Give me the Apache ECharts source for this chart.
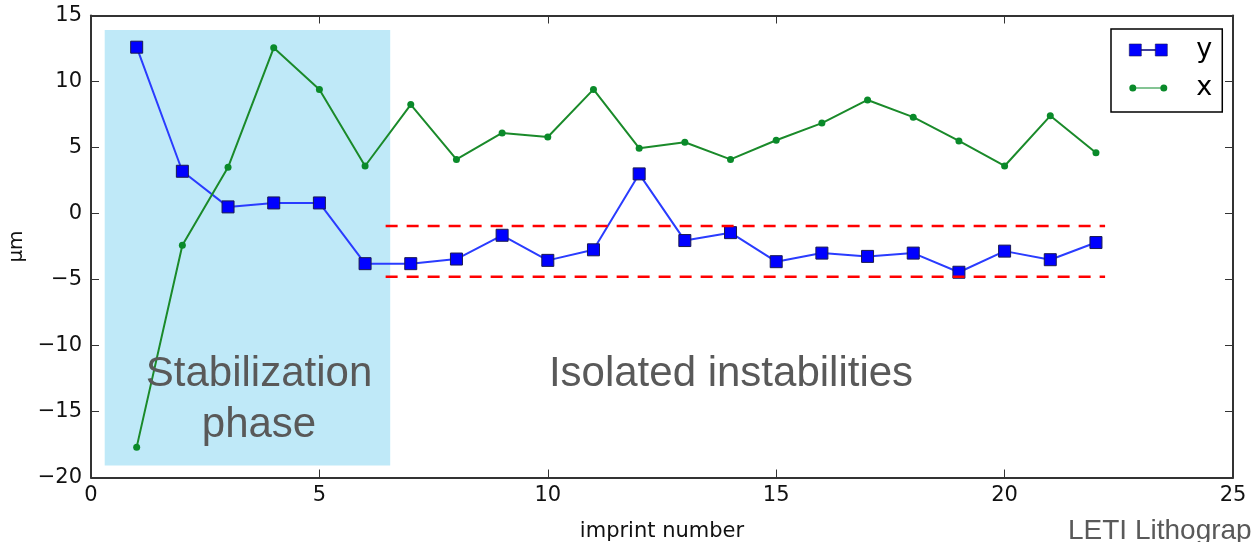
<!DOCTYPE html>
<html>
<head>
<meta charset="utf-8">
<script src="https://cdn.jsdelivr.net/npm/echarts@6/dist/echarts.min.js"></script>
<style>
  html, body { margin: 0; padding: 0; background: #fff; }
  #chart { width: 1251px; height: 542px; }
</style>
</head>
<body>
<div id="chart"></div>
<script>
// imprint numbers
var imprints = [1, 2, 3, 4, 5, 6, 7, 8, 9, 10, 11, 12, 13, 14, 15, 16, 17, 18, 19, 20, 21, 22];
// y shift (um)
var yShift = [12.6, 3.2, 0.5, 0.8, 0.8, -3.8, -3.8, -3.45, -1.65, -3.55, -2.75, 3.0, -2.05, -1.45, -3.65, -3.0, -3.25, -3.0, -4.45, -2.85, -3.5, -2.2];
// x shift (um)
var xShift = [-17.7, -2.4, 3.5, 12.55, 9.4, 3.6, 8.25, 4.1, 6.1, 5.8, 9.4, 4.95, 5.4, 4.1, 5.55, 6.85, 8.6, 7.3, 5.5, 3.6, 7.4, 4.6];
// tolerance band (red dashed)
var bandX = [6.45, 22.2];
var bandUpper = -0.95;
var bandLower = -4.8;
// stabilization phase shaded box [x0, x1, y0, y1]
var stabBox = [0.3, 6.55, -19.1, 13.9];
// axis ticks
var xTicks = { min: 0, max: 25, step: 5 };
var yTicks = { min: -20, max: 15, step: 5 };

var frameColor = '#333';
var tickFont = { color: '#111', fontSize: 21, fontFamily: 'DejaVu Sans' };
var minus = function (v) { return String(v).replace('-', '\u2212'); };

var chart = echarts.init(document.getElementById('chart'));

var pairs = function (ys) {
    return imprints.map(function (x, i) { return [x, ys[i]]; });
};

var frameLine = { show: true, onZero: false, lineStyle: { color: frameColor, width: 2 } };
var frameTick = { show: true, inside: true, length: 8, lineStyle: { color: frameColor, width: 1 } };

var option = {
    animation: false,
    backgroundColor: '#fff',
    grid: { left: 91, right: 18, top: 15.5, bottom: 64.5, containLabel: false, outerBoundsMode: 'none' },
    xAxis: [
        {
            type: 'value', position: 'bottom',
            min: xTicks.min, max: xTicks.max, interval: xTicks.step,
            name: 'imprint number', nameLocation: 'middle', nameGap: 44,
            nameTextStyle: { color: '#111', fontSize: 21, fontFamily: 'DejaVu Sans' },
            axisLine: frameLine,
            axisTick: frameTick,
            axisLabel: Object.assign({ margin: 8, formatter: minus, showMinLabel: true, showMaxLabel: true }, tickFont),
            splitLine: { show: false }
        },
        {
            type: 'value', position: 'top',
            min: xTicks.min, max: xTicks.max, interval: xTicks.step,
            axisLine: frameLine,
            axisTick: frameTick,
            axisLabel: { show: false },
            splitLine: { show: false }
        }
    ],
    yAxis: [
        {
            type: 'value', position: 'left',
            min: yTicks.min, max: yTicks.max, interval: yTicks.step,
            name: '\u03bcm', nameLocation: 'middle', nameGap: 62, nameRotate: 90,
            nameTextStyle: { color: '#111', fontSize: 20, fontFamily: 'DejaVu Sans' },
            axisLine: frameLine,
            axisTick: frameTick,
            axisLabel: Object.assign({ margin: 9, formatter: minus, showMinLabel: true, showMaxLabel: true }, tickFont),
            splitLine: { show: false }
        },
        {
            type: 'value', position: 'right',
            min: yTicks.min, max: yTicks.max, interval: yTicks.step,
            axisLine: frameLine,
            axisTick: frameTick,
            axisLabel: { show: false },
            splitLine: { show: false }
        }
    ],
    legend: {
        orient: 'vertical',
        left: 1111, top: 29,
        padding: [6, 10, 9, 18],
        itemGap: 8,
        itemWidth: 38, itemHeight: 12,
        borderColor: '#000', borderWidth: 1.5, borderRadius: 0,
        backgroundColor: '#fff',
        itemStyle: { borderWidth: 0.6 },
        textStyle: { color: '#000', fontSize: 27, fontFamily: 'DejaVu Sans', lineHeight: 30, padding: [0, 0, 0, 24] },
        data: [
            { name: 'y', icon: 'path://M0,0H12V12H0Z M12,5.5H26V6.5H12Z M26,0H38V12H26Z' },
            { name: 'x', icon: 'path://M0,6A3.5,3.5 0 1,1 7,6A3.5,3.5 0 1,1 0,6Z M3.5,5.5H34.5V6.5H3.5Z M31,6A3.5,3.5 0 1,1 38,6A3.5,3.5 0 1,1 31,6Z M0,0.01H0.01V0Z M0,12H0.01V11.99Z' }
        ]
    },
    graphic: [
        { type: 'text', x: 259, y: 374, z: 50, style: { text: 'Stabilization', fill: '#595959', font: '42px "Liberation Sans", Arial, sans-serif', align: 'center', verticalAlign: 'middle' } },
        { type: 'text', x: 259, y: 425, z: 50, style: { text: 'phase', fill: '#595959', font: '42px "Liberation Sans", Arial, sans-serif', align: 'center', verticalAlign: 'middle' } },
        { type: 'text', x: 731, y: 374, z: 50, style: { text: 'Isolated instabilities', fill: '#595959', font: '42px "Liberation Sans", Arial, sans-serif', align: 'center', verticalAlign: 'middle' } },
        { type: 'text', x: 1068, y: 531, z: 50, style: { text: 'LETI Lithography', fill: '#595959', font: '28px "Liberation Sans", Arial, sans-serif', align: 'left', verticalAlign: 'middle' } }
    ],
    series: [
        {
            name: 'stab',
            type: 'custom',
            z: 1,
            silent: true,
            encode: { x: [0, 1], y: [2, 3] },
            data: [stabBox],
            renderItem: function (params, api) {
                var p0 = api.coord([api.value(0), api.value(3)]);
                var p1 = api.coord([api.value(1), api.value(2)]);
                return {
                    type: 'rect',
                    shape: { x: p0[0], y: p0[1], width: p1[0] - p0[0], height: p1[1] - p0[1] },
                    style: { fill: '#bfe9f8' }
                };
            }
        },
        {
            name: 'y',
            type: 'line',
            z: 3,
            data: pairs(yShift),
            symbol: 'rect', symbolSize: 12,
            color: '#0000ff',
            itemStyle: { color: '#0000ff', borderColor: '#1a1a50', borderWidth: 1 },
            lineStyle: { color: '#2a3cff', width: 2 }
        },
        {
            name: 'x',
            type: 'line',
            z: 3,
            data: pairs(xShift),
            symbol: 'circle', symbolSize: 7,
            color: '#008000',
            itemStyle: { color: '#0a8a2a', borderWidth: 0 },
            lineStyle: { color: '#1a8a2a', width: 2 }
        },
        {
            name: 'upper',
            type: 'line',
            z: 4,
            silent: true,
            symbol: 'none',
            data: [[bandX[0], bandUpper], [bandX[1], bandUpper]],
            lineStyle: { color: '#ff0000', width: 2.5, type: [12, 9] }
        },
        {
            name: 'lower',
            type: 'line',
            z: 4,
            silent: true,
            symbol: 'none',
            data: [[bandX[0], bandLower], [bandX[1], bandLower]],
            lineStyle: { color: '#ff0000', width: 2.5, type: [12, 9] }
        }
    ]
};

chart.setOption(option);
</script>
</body>
</html>
